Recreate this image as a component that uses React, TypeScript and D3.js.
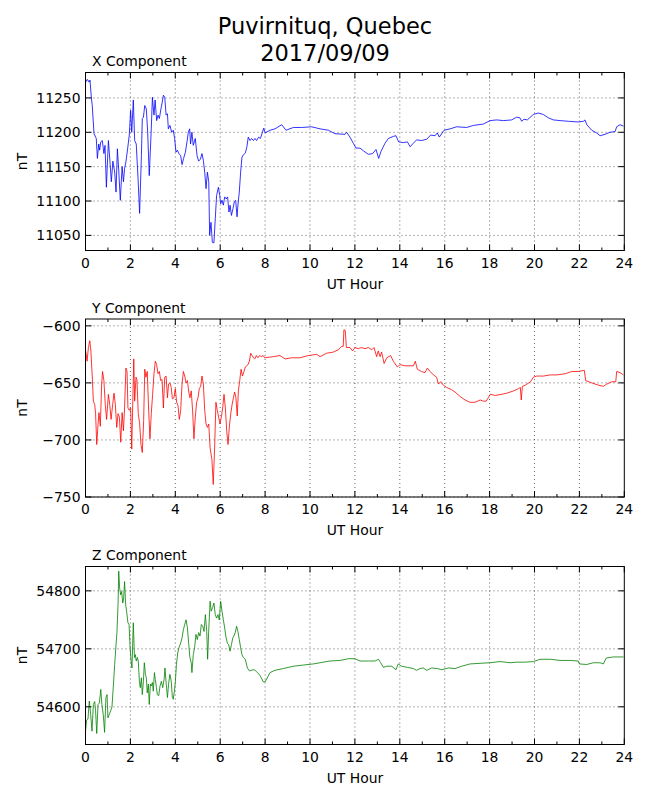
import React from 'react';
import * as d3 from 'd3';

// [UT hour, nT]
const xComponent: [number, number][] = [
  [0.01, 11273], [0.08, 11277], [0.16, 11273], [0.2, 11276], [0.26, 11251], [0.3, 11239],
  [0.38, 11198], [0.48, 11191], [0.53, 11162], [0.59, 11183], [0.63, 11174], [0.68, 11186],
  [0.75, 11188], [0.82, 11169], [0.87, 11181], [0.93, 11120], [1.02, 11188], [1.09, 11157],
  [1.15, 11128], [1.22, 11158], [1.3, 11142], [1.36, 11113], [1.42, 11176], [1.48, 11145],
  [1.55, 11101], [1.63, 11150], [1.69, 11128], [1.74, 11147], [1.8, 11157], [1.88, 11177],
  [1.95, 11196], [2.01, 11232], [2.06, 11200], [2.13, 11247], [2.19, 11188], [2.26, 11183],
  [2.34, 11133], [2.41, 11082], [2.49, 11166], [2.53, 11220], [2.58, 11222], [2.64, 11239],
  [2.71, 11234], [2.77, 11200], [2.84, 11137], [2.93, 11205], [2.98, 11251], [3.05, 11225],
  [3.1, 11247], [3.17, 11217], [3.23, 11225], [3.29, 11220], [3.36, 11234], [3.42, 11244],
  [3.47, 11254], [3.53, 11251], [3.59, 11225], [3.65, 11227], [3.69, 11205], [3.76, 11210],
  [3.84, 11200], [3.91, 11203], [3.97, 11191], [4.03, 11171], [4.09, 11174], [4.16, 11169],
  [4.24, 11166], [4.3, 11153], [4.37, 11162], [4.45, 11171], [4.52, 11186], [4.58, 11200],
  [4.64, 11205], [4.68, 11183], [4.74, 11200], [4.8, 11181], [4.89, 11191], [4.97, 11166],
  [5.04, 11158], [5.12, 11161], [5.19, 11169], [5.25, 11159], [5.31, 11142], [5.37, 11118],
  [5.43, 11142], [5.49, 11128], [5.53, 11050], [5.59, 11069], [5.65, 11040], [5.72, 11039],
  [5.78, 11074], [5.84, 11108], [5.92, 11120], [5.98, 11108], [6.02, 11096], [6.08, 11101],
  [6.14, 11094], [6.2, 11106], [6.27, 11103], [6.33, 11106], [6.39, 11084], [6.44, 11094],
  [6.5, 11079], [6.57, 11089], [6.63, 11099], [6.69, 11101], [6.75, 11077], [6.79, 11094],
  [6.85, 11113], [6.91, 11142], [6.97, 11164], [7.03, 11167], [7.12, 11170], [7.19, 11179],
  [7.25, 11193], [7.33, 11188], [7.4, 11191], [7.48, 11188], [7.55, 11191], [7.62, 11188],
  [7.71, 11193], [7.79, 11191], [7.86, 11198], [7.94, 11206], [8.0, 11199], [8.22, 11203],
  [8.44, 11205], [8.74, 11211], [8.93, 11203], [9.26, 11207], [9.63, 11207], [10.07, 11208],
  [10.45, 11205], [10.82, 11203], [11.11, 11198], [11.56, 11197], [11.63, 11200], [11.78, 11193],
  [11.93, 11184], [12.05, 11177], [12.23, 11177], [12.38, 11173], [12.6, 11168], [12.79, 11169],
  [12.94, 11175], [13.06, 11162], [13.16, 11172], [13.34, 11184], [13.49, 11191], [13.71, 11194],
  [13.83, 11195], [13.95, 11186], [14.16, 11185], [14.34, 11186], [14.46, 11179], [14.6, 11184],
  [14.75, 11189], [14.97, 11188], [15.2, 11190], [15.38, 11196], [15.57, 11195], [15.67, 11199],
  [15.76, 11193], [15.97, 11203], [16.24, 11205], [16.53, 11208], [16.98, 11207], [17.28, 11210],
  [17.72, 11212], [18.02, 11217], [18.32, 11218], [18.61, 11217], [18.98, 11218], [19.21, 11222],
  [19.35, 11221], [19.43, 11216], [19.53, 11219], [19.68, 11218], [19.95, 11226], [20.17, 11228],
  [20.39, 11226], [20.62, 11221], [20.84, 11218], [21.14, 11217], [21.51, 11216], [21.95, 11215],
  [22.18, 11216], [22.25, 11218], [22.33, 11211], [22.55, 11203], [22.77, 11199], [22.92, 11195],
  [23.14, 11197], [23.36, 11200], [23.59, 11201], [23.66, 11208], [23.81, 11211], [23.96, 11209],
];

const yComponent: [number, number][] = [
  [0.01, -622], [0.07, -631], [0.13, -619], [0.19, -613], [0.24, -622], [0.3, -644],
  [0.35, -666], [0.41, -669], [0.45, -677], [0.5, -704], [0.56, -686], [0.6, -676],
  [0.66, -688], [0.72, -651], [0.76, -640], [0.82, -648], [0.88, -669], [0.94, -682],
  [1.02, -660], [1.08, -669], [1.14, -682], [1.21, -669], [1.27, -659], [1.33, -669],
  [1.39, -689], [1.45, -677], [1.51, -680], [1.57, -702], [1.63, -676], [1.69, -692],
  [1.74, -672], [1.8, -637], [1.85, -640], [1.89, -672], [1.95, -674], [2.01, -672],
  [2.06, -708], [2.1, -672], [2.15, -629], [2.19, -666], [2.25, -645], [2.29, -647],
  [2.35, -677], [2.41, -685], [2.47, -704], [2.53, -711], [2.59, -683], [2.64, -638],
  [2.69, -645], [2.75, -640], [2.81, -672], [2.87, -699], [2.93, -677], [2.99, -660],
  [3.05, -642], [3.11, -631], [3.17, -634], [3.23, -642], [3.29, -640], [3.35, -648],
  [3.41, -647], [3.47, -672], [3.53, -645], [3.59, -644], [3.65, -663], [3.7, -651],
  [3.76, -650], [3.82, -654], [3.87, -664], [3.94, -663], [4.0, -655], [4.06, -667],
  [4.12, -670], [4.18, -682], [4.24, -674], [4.3, -651], [4.36, -640], [4.42, -644],
  [4.48, -650], [4.54, -648], [4.6, -658], [4.65, -663], [4.71, -657], [4.77, -674],
  [4.83, -699], [4.89, -680], [4.95, -667], [5.01, -663], [5.07, -655], [5.13, -653],
  [5.19, -644], [5.25, -651], [5.31, -674], [5.37, -686], [5.43, -689], [5.49, -686],
  [5.55, -707], [5.59, -712], [5.63, -717], [5.69, -739], [5.75, -708], [5.81, -667],
  [5.87, -674], [5.93, -680], [5.99, -686], [6.05, -680], [6.11, -672], [6.17, -660],
  [6.23, -672], [6.29, -692], [6.35, -704], [6.41, -688], [6.47, -677], [6.53, -669],
  [6.59, -663], [6.64, -658], [6.7, -663], [6.76, -679], [6.81, -657], [6.87, -648],
  [6.93, -638], [6.99, -644], [7.06, -640], [7.12, -636], [7.18, -635], [7.24, -634],
  [7.3, -631], [7.36, -624], [7.42, -626], [7.48, -628], [7.54, -629], [7.61, -626],
  [7.68, -628], [7.76, -626], [7.83, -627], [7.91, -626], [7.98, -628], [8.37, -627],
  [8.66, -626], [8.89, -629], [9.18, -628], [9.55, -628], [9.93, -626], [10.3, -625],
  [10.45, -627], [10.74, -624], [11.04, -623], [11.26, -621], [11.41, -618], [11.48, -618],
  [11.51, -603.5], [11.57, -604], [11.62, -619], [11.78, -619], [11.9, -622], [12.0, -619],
  [12.15, -620], [12.3, -619], [12.45, -620], [12.6, -619], [12.75, -621], [12.85, -619],
  [12.97, -627], [13.04, -622], [13.12, -627], [13.19, -623], [13.3, -633], [13.42, -628],
  [13.59, -626], [13.71, -631], [13.89, -636], [14.01, -634], [14.23, -635], [14.46, -635],
  [14.61, -635], [14.69, -631], [14.78, -638], [14.97, -640], [15.12, -641], [15.23, -637],
  [15.35, -640], [15.5, -643], [15.64, -645], [15.72, -651], [15.82, -649], [15.94, -652],
  [16.09, -654], [16.31, -656], [16.46, -658], [16.69, -662], [16.91, -665], [17.13, -667],
  [17.35, -667], [17.58, -665], [17.73, -666], [17.85, -666], [18.03, -660], [18.25, -661],
  [18.55, -660], [18.77, -659], [19.07, -657], [19.29, -655], [19.37, -654], [19.41, -665],
  [19.46, -653], [19.59, -652], [19.82, -649], [19.95, -645], [20.1, -644], [20.4, -644],
  [20.7, -643], [20.99, -643], [21.36, -642], [21.66, -640], [21.95, -640], [22.22, -639],
  [22.28, -648], [22.55, -650], [22.85, -652], [23.07, -653], [23.22, -651], [23.44, -649],
  [23.62, -649], [23.66, -640], [23.81, -641], [23.96, -643],
];

const zComponent: [number, number][] = [
  [0.0, 54558], [0.05, 54577], [0.11, 54579], [0.17, 54610], [0.23, 54587], [0.29, 54558],
  [0.35, 54604], [0.41, 54609], [0.45, 54593], [0.5, 54554], [0.56, 54604], [0.62, 54607],
  [0.68, 54630], [0.73, 54604], [0.79, 54587], [0.85, 54556], [0.91, 54616], [0.96, 54621],
  [1.0, 54581], [1.06, 54587], [1.12, 54593], [1.18, 54600], [1.24, 54636], [1.3, 54673],
  [1.36, 54707], [1.4, 54728], [1.45, 54776], [1.48, 54834], [1.52, 54805], [1.57, 54793],
  [1.61, 54799], [1.66, 54779], [1.7, 54788], [1.74, 54816], [1.79, 54776], [1.83, 54765],
  [1.89, 54745], [1.94, 54742], [1.98, 54707], [2.03, 54679], [2.07, 54667], [2.13, 54745],
  [2.18, 54685], [2.22, 54690], [2.26, 54679], [2.31, 54685], [2.35, 54679], [2.4, 54644],
  [2.44, 54633], [2.49, 54650], [2.53, 54621], [2.58, 54644], [2.62, 54676], [2.67, 54656],
  [2.71, 54650], [2.75, 54624], [2.8, 54639], [2.84, 54604], [2.89, 54639], [2.93, 54636],
  [2.98, 54642], [3.02, 54627], [3.07, 54659], [3.11, 54647], [3.16, 54633], [3.2, 54621],
  [3.26, 54619], [3.32, 54636], [3.38, 54644], [3.44, 54633], [3.5, 54647], [3.54, 54667],
  [3.59, 54642], [3.65, 54616], [3.7, 54639], [3.76, 54656], [3.82, 54644], [3.87, 54616],
  [3.91, 54613], [3.96, 54627], [4.0, 54642], [4.05, 54673], [4.11, 54693], [4.16, 54702],
  [4.24, 54710], [4.3, 54719], [4.36, 54733], [4.42, 54742], [4.48, 54750], [4.54, 54736],
  [4.6, 54707], [4.65, 54685], [4.71, 54676], [4.74, 54659], [4.8, 54690], [4.86, 54702],
  [4.92, 54725], [4.98, 54716], [5.04, 54728], [5.1, 54722], [5.16, 54742], [5.22, 54739],
  [5.28, 54730], [5.34, 54759], [5.4, 54730], [5.44, 54682], [5.49, 54733], [5.55, 54782],
  [5.6, 54765], [5.66, 54771], [5.72, 54779], [5.78, 54759], [5.84, 54753], [5.9, 54759],
  [5.96, 54750], [6.02, 54782], [6.08, 54765], [6.14, 54750], [6.2, 54736], [6.26, 54719],
  [6.32, 54710], [6.38, 54707], [6.44, 54696], [6.5, 54707], [6.56, 54719], [6.61, 54722],
  [6.67, 54728], [6.73, 54739], [6.79, 54730], [6.85, 54716], [6.91, 54702], [6.97, 54690],
  [7.03, 54685], [7.12, 54682], [7.21, 54667], [7.3, 54662], [7.39, 54663], [7.48, 54664],
  [7.56, 54663], [7.65, 54659], [7.74, 54656], [7.83, 54650], [7.92, 54643], [8.0, 54643],
  [8.22, 54659], [8.44, 54663], [8.81, 54666], [9.26, 54670], [9.7, 54672], [10.15, 54674],
  [10.45, 54676], [10.89, 54679], [11.34, 54680], [11.71, 54683], [12.0, 54683], [12.23, 54679],
  [12.6, 54679], [12.9, 54679], [13.05, 54682], [13.15, 54676], [13.27, 54668], [13.42, 54670],
  [13.64, 54670], [13.83, 54664], [13.93, 54674], [14.08, 54670], [14.34, 54668], [14.6, 54666],
  [14.75, 54663], [14.9, 54666], [15.05, 54667], [15.2, 54663], [15.42, 54667], [15.67, 54666],
  [15.87, 54664], [16.16, 54667], [16.46, 54666], [16.76, 54670], [17.13, 54674], [17.58, 54675],
  [18.02, 54676], [18.47, 54678], [18.91, 54676], [19.21, 54677], [19.58, 54677], [19.95, 54678],
  [20.25, 54682], [20.7, 54682], [21.14, 54680], [21.59, 54680], [21.95, 54679], [22.0, 54674],
  [22.33, 54673], [22.62, 54676], [22.92, 54676], [23.07, 54674], [23.19, 54684], [23.51, 54686],
  [23.96, 54686],
];

const hourTicks = [0, 2, 4, 6, 8, 10, 12, 14, 16, 18, 20, 22, 24];
const hourMinorTicks = [1, 3, 5, 7, 9, 11, 13, 15, 17, 19, 21, 23];
const xTicksNT = [11050, 11100, 11150, 11200, 11250];
const yTicksNT = [-750, -700, -650, -600];
const zTicksNT = [54600, 54700, 54800];

const titleLines = ['Puvirnituq, Quebec', '2017/09/09'];

const FONT = '"DejaVu Sans", sans-serif';
const W = 650;
const H = 800;
const LEFT = 85.5;
const RIGHT = 624.3;
const PANEL_H = 178;

interface PanelSpec {
  title: string;
  data: [number, number][];
  domain: [number, number];
  ticks: number[];
  color: string;
  top: number;
}

const panels: PanelSpec[] = [
  { title: 'X Component', data: xComponent, domain: [11028, 11287], ticks: xTicksNT, color: '#0000ff', top: 72.5 },
  { title: 'Y Component', data: yComponent, domain: [-750, -594], ticks: yTicksNT, color: '#ff0000', top: 319 },
  { title: 'Z Component', data: zComponent, domain: [54535, 54842], ticks: zTicksNT, color: '#008000', top: 566.5 },
];

const fmt = (v: number) => (v < 0 ? '\u2212' + Math.abs(v) : String(v));

const Panel: React.FC<{ p: PanelSpec }> = ({ p }) => {
  const bottom = p.top + PANEL_H;
  const x = d3.scaleLinear().domain([0, 24]).range([LEFT, RIGHT]);
  const y = d3.scaleLinear().domain(p.domain).range([bottom, p.top]);
  const line = d3.line<[number, number]>().x(d => x(d[0])).y(d => y(d[1]));

  return (
    <g>
      {/* grid */}
      {hourTicks.slice(1, -1).map(t => (
        <line key={'gx' + t} x1={x(t)} x2={x(t)} y1={p.top} y2={bottom}
          stroke="#000" strokeWidth={0.6} strokeDasharray="1,3" />
      ))}
      {p.ticks.map(t => (
        <line key={'gy' + t} x1={LEFT} x2={RIGHT} y1={y(t)} y2={y(t)}
          stroke="#000" strokeWidth={0.6} strokeDasharray="1,3" />
      ))}

      <clipPath id={'clip' + p.top}>
        <rect x={LEFT} y={p.top} width={RIGHT - LEFT} height={PANEL_H} />
      </clipPath>
      <path d={line(p.data) || ''} fill="none" stroke={p.color} strokeWidth={0.8}
        clipPath={`url(#clip${p.top})`} />

      {/* ticks, inward on all four sides */}
      {hourTicks.map(t => (
        <g key={'tx' + t}>
          <line x1={x(t)} x2={x(t)} y1={bottom} y2={bottom - 6} stroke="#000" />
          <line x1={x(t)} x2={x(t)} y1={p.top} y2={p.top + 6} stroke="#000" />
          <text x={x(t)} y={bottom + 17} textAnchor="middle" fontSize={13.9} fontFamily={FONT}>{t}</text>
        </g>
      ))}
      {hourMinorTicks.map(t => (
        <g key={'mx' + t}>
          <line x1={x(t)} x2={x(t)} y1={bottom} y2={bottom - 3} stroke="#000" />
          <line x1={x(t)} x2={x(t)} y1={p.top} y2={p.top + 3} stroke="#000" />
        </g>
      ))}
      {p.ticks.map(t => (
        <g key={'ty' + t}>
          <line x1={LEFT} x2={LEFT + 6} y1={y(t)} y2={y(t)} stroke="#000" />
          <line x1={RIGHT} x2={RIGHT - 6} y1={y(t)} y2={y(t)} stroke="#000" />
          <text x={LEFT - 5} y={y(t)} dy="0.36em" textAnchor="end" fontSize={13.9} fontFamily={FONT}>{fmt(t)}</text>
        </g>
      ))}

      <rect x={LEFT} y={p.top} width={RIGHT - LEFT} height={PANEL_H} fill="none" stroke="#000" strokeWidth={1} />

      <text x={LEFT + 6.5} y={p.top - 6.5} fontSize={13.9} fontFamily={FONT}>{p.title}</text>
      <text x={(LEFT + RIGHT) / 2} y={bottom + 38} textAnchor="middle" fontSize={13.9} fontFamily={FONT}>UT Hour</text>
      <text transform={`translate(27,${(p.top + bottom) / 2}) rotate(-90)`} textAnchor="middle"
        fontSize={13.9} fontFamily={FONT}>nT</text>
    </g>
  );
};

export default function App() {
  return (
    <svg width={W} height={H} style={{ position: 'absolute', left: 0, top: 0, background: '#fff' }}>
      <rect width={W} height={H} fill="#fff" />
      {titleLines.map((s, i) => (
        <text key={s} x={W / 2} y={34 + i * 27} textAnchor="middle" fontSize={22.5} fontFamily={FONT}>{s}</text>
      ))}
      {panels.map(p => <Panel key={p.title} p={p} />)}
    </svg>
  );
}
